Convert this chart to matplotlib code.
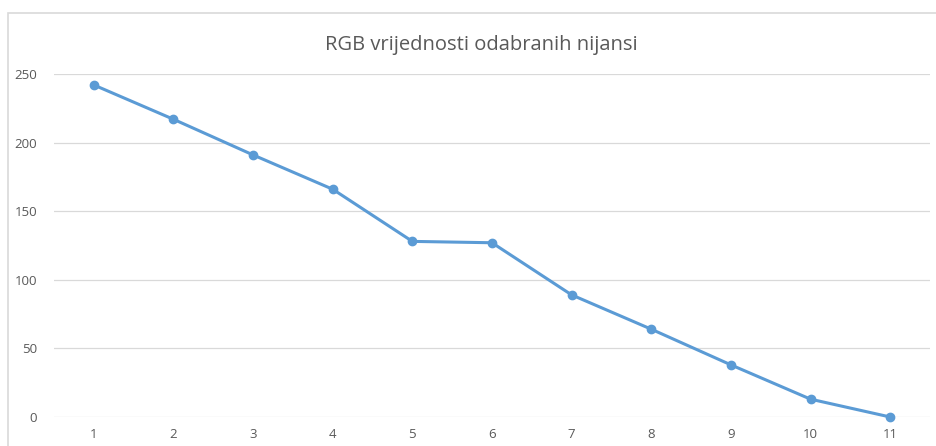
import matplotlib.pyplot as plt
from matplotlib.patches import Rectangle

# RGB values of the selected shades
categories = [1, 2, 3, 4, 5, 6, 7, 8, 9, 10, 11]
values = [242, 217, 191, 166, 128, 127, 89, 64, 38, 13, 0]

W, H = 936, 446
fig = plt.figure(figsize=(W / 100, H / 100), dpi=100)
plt.rcParams['font.family'] = ['Open Sans', 'DejaVu Sans']

# chart frame (cropped at right/bottom)
fig.patches.append(Rectangle((8 / W, -0.1), 1.2, (H - 13) / H + 0.1,
                             transform=fig.transFigure, fill=False,
                             edgecolor='#D9D9D9', linewidth=1.2))

ax = fig.add_axes([54 / W, (H - 417) / H, (930 - 54) / W, (417 - 74) / H])
ax.plot(categories, values, color='#5B9BD5', linewidth=2.2,
        marker='o', markersize=6, zorder=3, clip_on=False)

ax.set_xlim(0.5, 11.5)
ax.set_ylim(0, 250)
ax.set_yticks(range(0, 251, 50))
ax.set_xticks(categories)
ax.grid(axis='y', color='#D9D9D9', linewidth=0.9)
ax.set_axisbelow(True)
for s in ax.spines.values():
    s.set_visible(False)
ax.tick_params(length=0, labelsize=9.5, labelcolor='#595959')
ax.tick_params(axis='y', pad=12)
ax.tick_params(axis='x', pad=8)

fig.text(481 / W, 1 - 45 / H, 'RGB vrijednosti odabranih nijansi',
         ha='center', va='center', fontsize=14.5, color='#595959')

fig.savefig('out.png', dpi=100)
